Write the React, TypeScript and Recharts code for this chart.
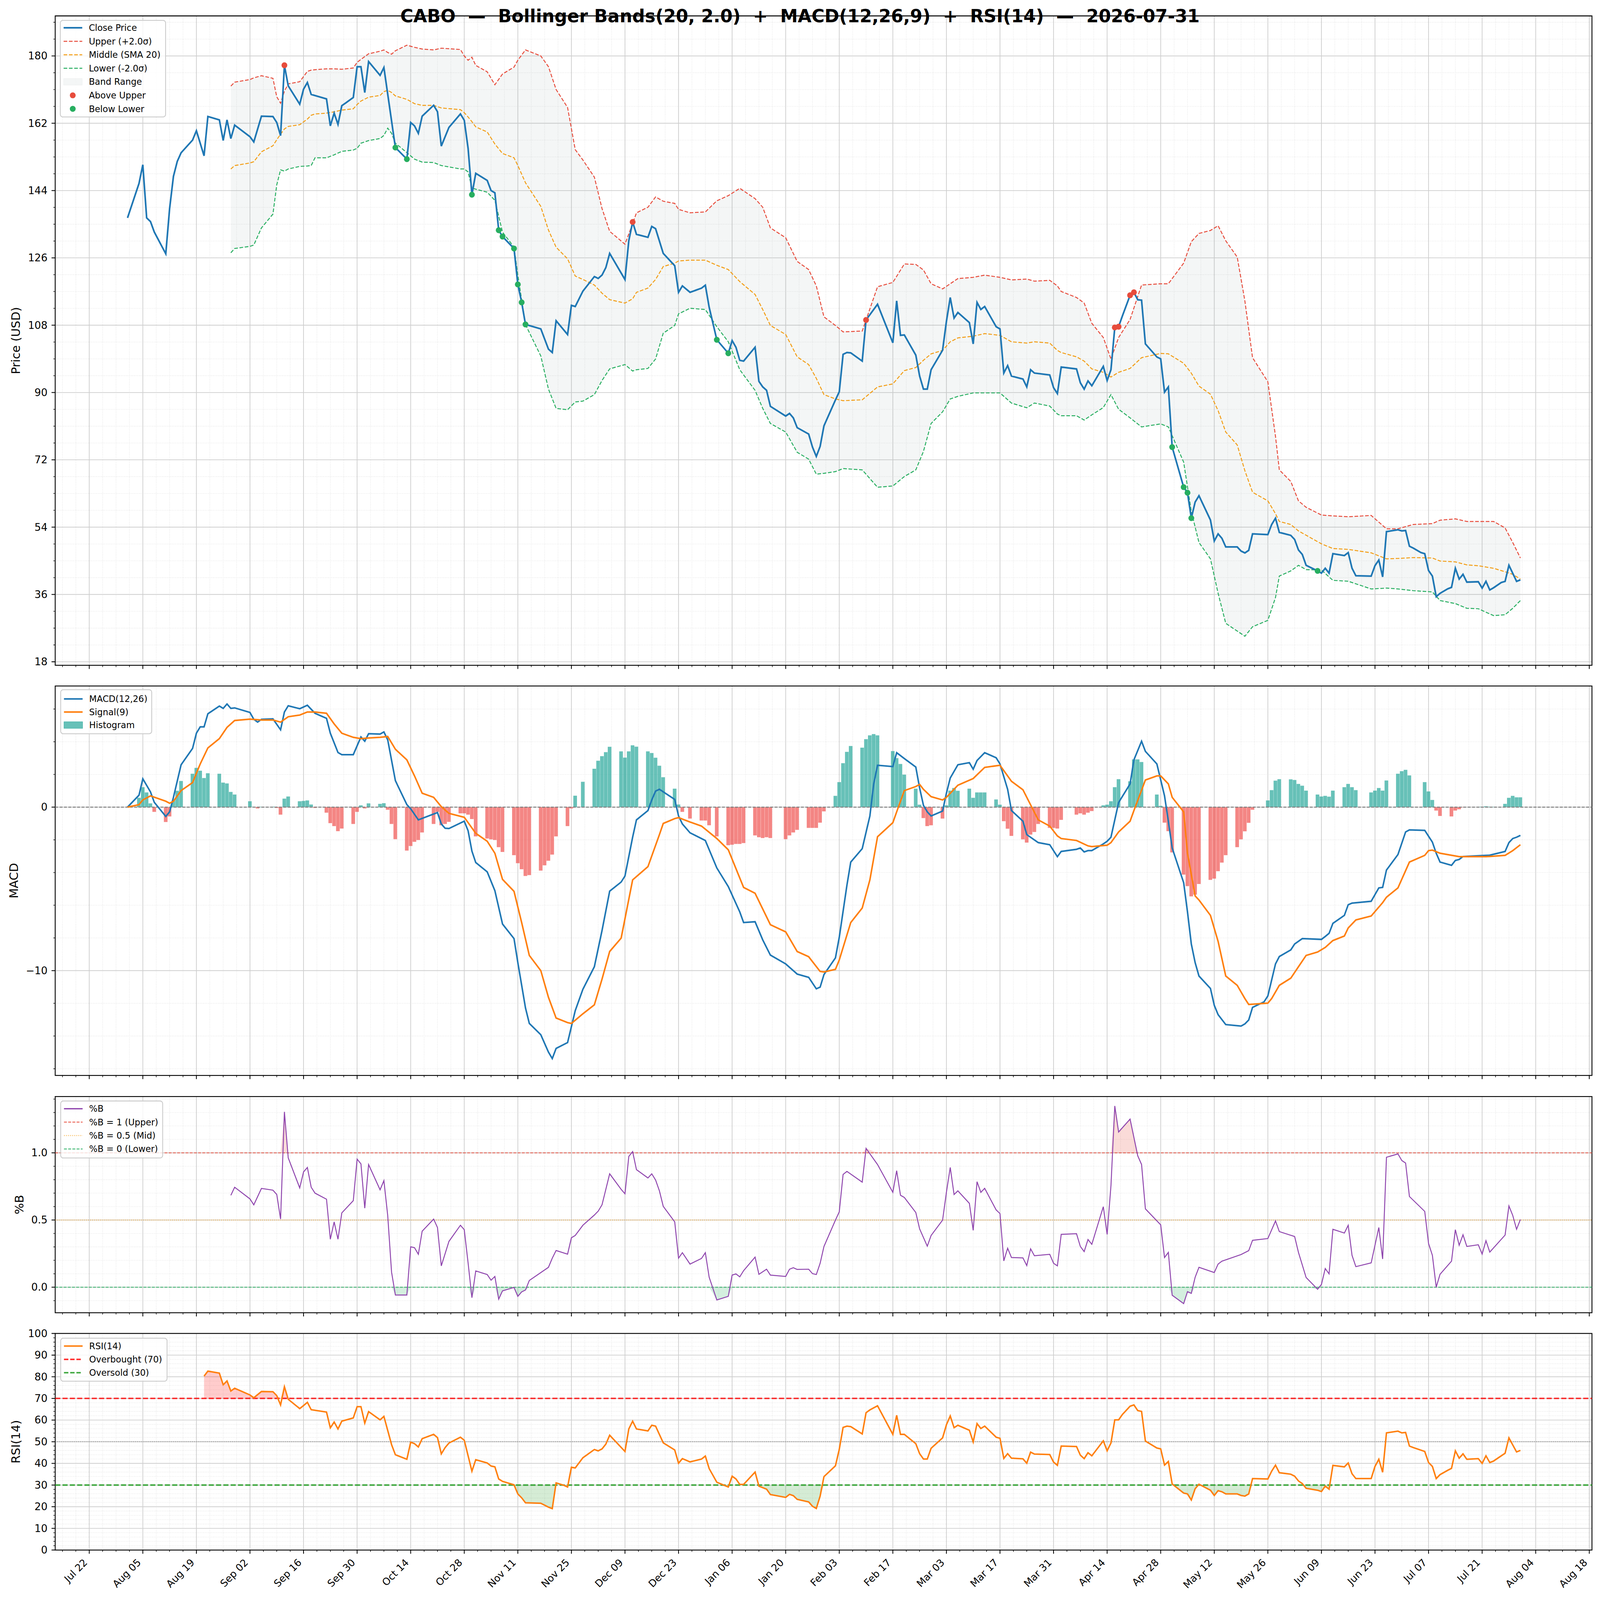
import React from 'react';
import {
  ComposedChart,
  Line,
  Area,
  Bar,
  Cell,
  Scatter,
  XAxis,
  YAxis,
  CartesianGrid,
  ReferenceLine,
  ReferenceArea,
} from 'recharts';

const FIG_W = 4377;
const FIG_H = 4322;
const PLOT_LEFT = 151;
const PLOT_RIGHT = 4355;
const Y_AXIS_W = 120;
const M_TOP = 30;
const FONT = "'DejaVu Sans', sans-serif";

const COLORS = {
  close: '#1f77b4',
  upper: '#e74c3c',
  middle: '#f39c12',
  lower: '#27ae60',
  band: '#95a5a6',
  macd: '#1f77b4',
  signal: '#ff7f0e',
  histPos: '#26a69a',
  histNeg: '#ef5350',
  pctB: '#8e44ad',
  rsi: '#ff7f0e',
  overbought: '#ff0000',
  oversold: '#2ca02c',
};

// x values are calendar days counted from 2025-07-22
const X_DOMAIN: [number, number] = [-8.9, 392.7];

const DATE_LABELS = [
  'Jul 22', 'Aug 05', 'Aug 19', 'Sep 02', 'Sep 16', 'Sep 30', 'Oct 14', 'Oct 28', 'Nov 11', 'Nov 25',
  'Dec 09', 'Dec 23', 'Jan 06', 'Jan 20', 'Feb 03', 'Feb 17', 'Mar 03', 'Mar 17', 'Mar 31', 'Apr 14',
  'Apr 28', 'May 12', 'May 26', 'Jun 09', 'Jun 23', 'Jul 07', 'Jul 21', 'Aug 04', 'Aug 18',
];
const DATE_TICKS = DATE_LABELS.map((_, i) => i * 14);

const CLOSE: [number, number][] = [
  [10, 136.7], [13, 145.9], [14, 150.9], [15, 136.7], [16, 135.7], [17, 132.9], [20, 127.1], [21, 139.2],
  [22, 147.8], [23, 151.8], [24, 154.1], [27, 157.5], [28, 160.0], [30, 153.3], [31, 163.8], [34, 162.9],
  [35, 157.4], [36, 162.9], [37, 157.9], [38, 161.5], [42, 158.4], [43, 157.0], [45, 163.9], [48, 163.8],
  [49, 162.2], [50, 158.7], [51, 177.5], [52, 172.0], [55, 167.1], [56, 171.1], [57, 172.9], [58, 169.7],
  [62, 168.5], [63, 161.3], [64, 164.7], [65, 161.7], [66, 166.7], [67, 167.4], [69, 168.9], [70, 177.1],
  [71, 177.1], [72, 170.2], [73, 178.5], [76, 174.8], [77, 176.9], [80, 155.5], [83, 152.4], [84, 162.2],
  [85, 161.3], [86, 159.3], [87, 163.9], [90, 166.8], [91, 165.1], [92, 155.9], [94, 160.9], [97, 164.5],
  [98, 162.8], [99, 155.3], [100, 142.9], [101, 148.6], [104, 146.7], [105, 144.0], [106, 143.4], [107, 133.4],
  [108, 131.7], [111, 128.5], [112, 118.9], [113, 114.1], [114, 108.2], [118, 107.0], [120, 101.6], [121, 100.7],
  [122, 109.2], [125, 105.5], [126, 113.3], [127, 113.0], [129, 117.1], [132, 121.0], [133, 120.5], [134, 121.4],
  [135, 123.4], [136, 127.2], [140, 120.2], [141, 130.6], [142, 135.6], [143, 132.3], [146, 131.5], [147, 134.4],
  [148, 133.8], [150, 127.2], [153, 123.9], [154, 116.8], [155, 118.5], [157, 116.8], [160, 117.9], [161, 118.7],
  [162, 112.8], [164, 104.1], [167, 100.5], [168, 103.9], [169, 102.1], [170, 98.6], [171, 98.4], [174, 102.1],
  [175, 93.0], [176, 91.5], [177, 90.6], [178, 86.3], [182, 83.7], [183, 84.4], [184, 83.2], [185, 80.6],
  [188, 78.9], [189, 75.4], [190, 72.9], [191, 75.6], [192, 81.1], [195, 88.0], [196, 90.2], [197, 100.2],
  [198, 100.7], [199, 100.6], [202, 98.4], [203, 109.4], [206, 113.6], [210, 103.3], [211, 114.5], [212, 105.3],
  [213, 105.4], [216, 100.0], [217, 94.4], [218, 90.9], [219, 90.9], [220, 96.1], [223, 101.3], [224, 109.0],
  [225, 115.4], [226, 109.9], [227, 111.4], [230, 108.7], [231, 103.0], [232, 114.1], [233, 112.2], [234, 113.0],
  [237, 107.6], [238, 107.0], [239, 95.2], [240, 97.2], [241, 94.4], [244, 93.6], [245, 91.5], [246, 96.1],
  [247, 95.2], [251, 94.7], [252, 91.3], [253, 89.7], [254, 96.8], [258, 96.3], [259, 92.6], [260, 90.9],
  [261, 93.1], [262, 91.8], [265, 97.0], [266, 93.2], [267, 96.1], [268, 107.4], [269, 107.6], [270, 110.5],
  [272, 116.0], [273, 116.8], [274, 114.8], [275, 114.7], [276, 103.0], [279, 99.5], [280, 99.0], [281, 90.1],
  [282, 91.5], [283, 75.4], [286, 64.7], [287, 63.2], [288, 56.4], [289, 60.7], [290, 62.4], [293, 55.9],
  [294, 50.3], [295, 52.2], [296, 51.0], [297, 48.7], [300, 48.7], [301, 47.6], [302, 47.1], [303, 47.8],
  [304, 52.2], [308, 52.0], [309, 54.7], [310, 56.4], [311, 52.6], [314, 51.8], [315, 50.7], [316, 47.9],
  [317, 46.7], [318, 43.8], [321, 42.3], [322, 41.7], [323, 43.0], [324, 41.7], [325, 46.9], [328, 46.4],
  [329, 47.2], [330, 43.0], [331, 41.0], [335, 40.9], [336, 43.7], [337, 45.2], [338, 40.7], [339, 52.8],
  [342, 53.3], [343, 53.0], [344, 53.1], [345, 48.9], [346, 48.4], [348, 47.2], [349, 46.9], [350, 42.4],
  [351, 40.9], [352, 35.4], [353, 36.3], [355, 37.5], [356, 37.9], [357, 43.0], [358, 40.1], [359, 41.4],
  [360, 39.3], [363, 39.4], [364, 37.7], [365, 39.5], [366, 37.2], [367, 37.8], [369, 39.2], [370, 39.5],
  [371, 43.8], [373, 39.5], [374, 39.9],
];

const BAND_DAYS = [
  37, 38, 42, 43, 45, 48, 49, 50, 51, 52, 55, 57, 58, 59, 62, 64, 66, 69, 70, 71, 73, 76, 77, 78, 79, 80,
  83, 85, 87, 90, 92, 97, 98, 99, 100, 101, 104, 106, 108, 111, 112, 114, 118, 120, 122, 125, 127, 129,
  132, 134, 136, 140, 142, 143, 146, 148, 150, 153, 154, 157, 161, 164, 167, 170, 174, 176, 178, 182, 185,
  188, 190, 192, 195, 197, 202, 206, 210, 213, 216, 218, 220, 223, 225, 227, 231, 234, 238, 241, 245, 247,
  251, 253, 254, 258, 260, 262, 265, 267, 269, 272, 275, 280, 282, 286, 288, 290, 293, 295, 297, 300, 302,
  304, 308, 310, 311, 314, 316, 318, 322, 325, 329, 335, 339, 342, 346, 351, 353, 357, 360, 363, 367, 370,
  372, 374,
];
const UPPER = [
  171.95, 172.99, 173.68, 174.14, 174.71, 174.02, 169.08, 167.36, 170.57, 172.53, 173.1, 175.86, 176.21, 176.32,
  176.55, 176.55, 176.44, 176.78, 178.28, 179.08, 180.57, 181.26, 181.61, 180.92, 180.46, 181.38, 182.87, 182.3,
  181.84, 181.61, 182.07, 181.72, 180.0, 178.85, 179.66, 177.47, 175.75, 172.3, 175.17, 177.01, 178.85, 181.61,
  180.0, 177.13, 171.03, 166.21, 154.94, 152.18, 147.59, 139.2, 133.1, 129.66, 135.17, 138.05, 139.54, 142.3,
  141.15, 140.57, 138.97, 138.05, 138.28, 141.26, 142.64, 144.6, 141.84, 139.54, 134.02, 131.38, 125.06, 122.87,
  118.51, 110.23, 107.93, 106.21, 106.44, 118.28, 119.43, 124.37, 124.25, 122.76, 119.08, 117.7, 119.08, 120.46,
  120.8, 121.38, 120.8, 120.11, 120.34, 119.77, 120.0, 118.51, 117.01, 115.4, 113.91, 108.51, 104.71, 98.97,
  104.71, 109.54, 118.74, 119.08, 119.08, 124.6, 130.34, 132.53, 133.33, 134.6, 130.57, 126.21, 114.48, 99.31,
  92.87, 78.28, 69.31, 66.21, 61.03, 59.31, 57.24, 57.01, 56.78, 57.13, 53.56, 53.56, 54.71, 54.94, 55.86,
  56.21, 55.52, 55.52, 55.52, 53.79, 49.89, 45.75,
];
const MIDDLE = [
  149.77, 150.69, 151.38, 151.72, 154.37, 155.98, 157.59, 159.08, 160.46, 161.15, 161.61, 163.1, 164.14, 164.48,
  164.71, 165.06, 165.52, 165.86, 167.01, 167.93, 168.97, 169.43, 170.46, 170.8, 170.23, 169.31, 168.39, 167.24,
  166.78, 166.78, 166.09, 165.63, 164.83, 163.68, 162.41, 161.03, 159.66, 156.44, 153.91, 152.76, 150.69, 146.09,
  139.77, 133.45, 128.85, 125.75, 121.15, 120.23, 118.74, 116.55, 114.83, 113.91, 115.06, 116.78, 117.93, 120.23,
  123.68, 124.6, 125.17, 125.4, 125.4, 124.02, 122.87, 119.66, 116.21, 112.18, 107.93, 105.52, 99.54, 97.47,
  93.79, 89.43, 88.28, 87.82, 88.05, 91.49, 92.3, 95.86, 96.67, 98.62, 100.34, 101.26, 103.56, 104.6,
  105.06, 105.75, 105.29, 103.56, 103.22, 103.56, 103.22, 101.26, 100.69, 99.54, 98.39, 96.32, 95.4, 94.14,
  95.4, 96.44, 99.31, 100.46, 100.34, 97.82, 95.17, 91.72, 89.54, 85.17, 79.43, 75.98, 69.08, 63.33,
  61.03, 57.59, 55.52, 54.71, 52.99, 51.84, 49.54, 48.28, 48.05, 47.13, 45.52, 45.63, 45.86, 45.75, 44.94,
  44.71, 43.91, 43.68, 42.99, 42.07, 41.38, 40.11,
];
const LOWER = [
  127.36, 128.51, 129.08, 129.43, 134.02, 137.7, 145.52, 149.54, 149.2, 149.77, 150.46, 150.57, 150.69, 152.76,
  152.76, 153.56, 154.48, 154.83, 155.29, 156.67, 157.36, 157.93, 158.74, 160.69, 159.31, 156.67, 154.14, 152.41,
  151.61, 151.49, 150.69, 149.77, 149.77, 148.97, 144.71, 144.37, 143.56, 141.38, 132.87, 128.9, 121.38, 108.16,
  99.77, 90.92, 85.75, 85.4, 87.47, 87.7, 89.43, 93.22, 96.32, 97.47, 95.75, 96.09, 96.44, 98.97,
  105.86, 107.93, 111.03, 112.53, 112.18, 107.59, 103.56, 96.09, 90.57, 85.75, 81.72, 79.43, 74.02, 72.18,
  68.16, 68.39, 68.85, 69.66, 69.31, 64.66, 65.0, 67.53, 69.31, 74.25, 81.72, 84.83, 88.28, 88.97,
  89.89, 89.89, 89.89, 87.18, 85.92, 87.18, 86.38, 84.25, 83.79, 83.79, 82.64, 84.02, 85.98, 89.43,
  85.52, 83.22, 80.8, 81.61, 80.8, 71.38, 58.16, 49.89, 45.52, 36.32, 28.28, 26.21, 24.83, 27.36,
  29.08, 35.17, 40.92, 42.3, 43.79, 42.64, 42.53, 39.77, 39.54, 37.47, 37.7, 37.47, 37.01, 36.67, 34.37,
  33.56, 32.3, 32.18, 30.34, 30.57, 32.3, 34.37,
];

const ABOVE_UPPER_DAYS = [51, 142, 203, 268, 269, 272, 273];
const BELOW_LOWER_DAYS = [80, 83, 100, 107, 108, 111, 112, 113, 114, 164, 167, 283, 286, 287, 288, 321];

const MACD: [number, number][] = [
  [10, 0], [13, 0.73], [14, 1.73], [16, 0.93], [17, 0.29], [20, -0.57], [21, -0.29], [22, 0.6], [24, 2.59],
  [27, 3.59], [28, 4.52], [29, 4.91], [30, 4.91], [31, 5.71], [34, 6.18], [35, 6.04], [36, 6.31], [37, 6.04],
  [38, 6.07], [42, 5.79], [43, 5.37], [44, 5.2], [45, 5.37], [48, 5.4], [50, 4.73], [51, 5.82], [52, 6.2],
  [55, 6.02], [57, 6.23], [59, 5.74], [62, 5.43], [63, 4.52], [65, 3.34], [66, 3.21], [69, 3.21], [71, 4.29],
  [72, 4.03], [73, 4.49], [76, 4.47], [77, 4.6], [78, 4.11], [80, 1.62], [83, 0.15], [84, -0.1], [86, -0.78],
  [91, -0.33], [92, -1.03], [93, -1.29], [94, -1.31], [98, -0.86], [99, -1.44], [100, -2.69], [101, -3.39],
  [104, -3.96], [106, -5.11], [108, -7.15], [111, -8.04], [112, -9.51], [114, -12.28], [115, -13.23],
  [118, -13.92], [120, -14.98], [121, -15.38], [122, -14.76], [125, -14.4], [127, -12.45], [129, -11.14],
  [132, -9.76], [134, -7.55], [136, -5.14], [139, -4.58], [140, -4.21], [142, -1.84], [143, -0.78], [146, -0.21],
  [147, 0.44], [148, 0.98], [149, 1.09], [153, 0.47], [154, -0.54], [155, -1.03], [157, -1.57], [161, -2.04],
  [164, -3.72], [167, -4.86], [170, -6.41], [171, -7.06], [174, -7.01], [176, -8.12], [178, -9.05], [182, -9.59],
  [185, -10.21], [188, -10.41], [190, -11.11], [191, -11.01], [192, -10.24], [195, -9.22], [196, -7.96],
  [198, -4.78], [199, -3.36], [202, -2.54], [204, -0.54], [205, 1.42], [206, 2.56], [210, 2.48], [211, 3.33],
  [213, 2.97], [216, 2.45], [217, 1.17], [218, 0.11], [219, -0.29], [220, -0.54], [223, -0.24], [224, 0.85],
  [225, 1.78], [227, 2.59], [230, 2.72], [231, 2.32], [232, 2.85], [234, 3.33], [237, 3.02], [238, 2.64],
  [240, 1.09], [241, -0.21], [244, -0.86], [245, -1.68], [248, -2.17], [251, -2.3], [253, -3.03], [254, -2.71],
  [258, -2.58], [259, -2.5], [260, -2.74], [261, -2.66], [262, -2.66], [265, -2.25], [266, -2.09], [267, -1.84],
  [269, 0.28], [272, 1.42], [273, 2.89], [275, 4.03], [276, 3.41], [279, 2.64], [281, 0.69], [282, -0.86],
  [283, -2.5], [286, -4.62], [287, -6.41], [288, -8.37], [289, -9.51], [290, -10.33], [293, -11.09], [294, -12.12],
  [295, -12.69], [297, -13.3], [301, -13.39], [302, -13.26], [303, -13.02], [304, -12.25], [307, -11.91],
  [308, -11.55], [310, -9.59], [311, -9.14], [314, -8.73], [315, -8.37], [317, -8.04], [322, -8.09], [323, -7.91],
  [324, -7.72], [325, -7.11], [328, -6.62], [329, -5.97], [330, -5.87], [335, -5.76], [337, -4.94], [338, -4.91],
  [339, -3.85], [342, -2.9], [344, -1.52], [345, -1.39], [349, -1.42], [351, -2.14], [352, -2.82], [353, -3.36],
  [356, -3.56], [357, -3.26], [358, -3.2], [359, -3.02], [365, -2.95], [366, -2.94], [370, -2.71], [371, -2.17],
  [372, -1.92], [373, -1.84], [374, -1.73],
];

const SIGNAL: [number, number][] = [
  [10, 0], [13, 0.15], [14, 0.44], [16, 0.69], [20, 0.36], [21, 0.24], [22, 0.36], [24, 1.01], [27, 1.5],
  [28, 2.07], [29, 2.64], [31, 3.62], [34, 4.19], [36, 4.88], [38, 5.3], [42, 5.38], [45, 5.33], [48, 5.33],
  [50, 5.2], [52, 5.53], [55, 5.63], [57, 5.82], [59, 5.82], [62, 5.74], [64, 5.09], [66, 4.52], [69, 4.27],
  [71, 4.19], [73, 4.23], [76, 4.27], [78, 4.32], [80, 3.54], [83, 2.89], [85, 1.91], [87, 0.85], [90, 0.6],
  [92, 0.03], [94, -0.38], [98, -0.62], [101, -1.6], [104, -2.09], [106, -2.82], [108, -4.42], [111, -5.15],
  [113, -7.06], [115, -9.07], [118, -10.0], [120, -11.63], [122, -12.9], [125, -13.18], [126, -13.23],
  [129, -12.64], [132, -12.09], [134, -10.52], [136, -8.83], [139, -8.01], [142, -4.45], [146, -3.64],
  [149, -1.68], [150, -1.0], [153, -0.7], [154, -0.64], [157, -0.91], [160, -1.16], [164, -1.92], [167, -2.61],
  [171, -4.91], [174, -5.27], [178, -7.19], [182, -7.63], [185, -8.83], [188, -9.15], [191, -10.05],
  [192, -10.08], [195, -9.92], [196, -9.35], [199, -7.06], [202, -6.17], [204, -4.45], [206, -1.81], [210, -0.95],
  [211, -0.29], [213, 1.01], [216, 1.26], [217, 1.39], [218, 1.09], [220, 0.64], [223, 0.44], [224, 0.6],
  [227, 1.34], [231, 1.75], [234, 2.43], [238, 2.56], [241, 1.58], [244, 1.06], [248, -0.78], [251, -1.16],
  [253, -1.76], [254, -1.92], [258, -2.04], [261, -2.37], [262, -2.41], [266, -2.33], [267, -2.17], [269, -1.52],
  [272, -0.86], [273, -0.21], [276, 1.66], [279, 1.91], [280, 1.91], [282, 1.42], [283, 0.6], [286, -0.29],
  [287, -2.82], [289, -5.43], [290, -5.68], [293, -6.62], [295, -8.21], [297, -10.33], [300, -10.9], [302, -11.71],
  [303, -12.07], [308, -11.99], [309, -11.71], [311, -10.9], [314, -10.46], [316, -9.76], [318, -9.07],
  [321, -8.86], [323, -8.58], [325, -8.16], [328, -7.88], [329, -7.39], [331, -6.9], [335, -6.66], [338, -5.84],
  [339, -5.51], [342, -4.94], [345, -3.36], [349, -2.95], [350, -2.66], [351, -2.63], [353, -2.82], [358, -3.03],
  [365, -3.03], [370, -2.95], [372, -2.66], [374, -2.3],
];

const HIST: [number, number][] = [
  [13, 0.57], [14, 1.22], [15, 0.9], [16, 0.23], [17, -0.29], [20, -0.91], [21, -0.57], [22, 0.4], [23, 1.0],
  [24, 1.6], [27, 2.04], [28, 2.4], [29, 2.23], [30, 1.78], [31, 2.07], [34, 2.04], [35, 1.5], [36, 1.45],
  [37, 0.93], [38, 0.77], [42, 0.36], [43, 0.02], [44, -0.08], [45, 0.02], [48, 0.03], [49, -0.05], [50, -0.46],
  [51, 0.52], [52, 0.65], [55, 0.36], [56, 0.38], [57, 0.41], [58, 0.16], [59, -0.05], [62, -0.34], [63, -0.98],
  [64, -1.16], [65, -1.47], [66, -1.31], [69, -1.03], [70, -0.29], [71, 0.11], [72, -0.08], [73, 0.23],
  [76, 0.2], [77, 0.24], [78, -0.16], [79, -1.03], [80, -1.96], [83, -2.66], [84, -2.38], [85, -2.12],
  [86, -2.01], [87, -1.55], [90, -1.03], [91, -0.29], [92, -1.11], [93, -1.03], [94, -0.9], [97, -0.38],
  [98, -0.38], [99, -0.46], [100, -0.73], [101, -1.79], [104, -1.92], [105, -1.97], [106, -2.01], [107, -2.45],
  [108, -2.74], [111, -2.94], [112, -3.43], [113, -3.8], [114, -4.21], [115, -4.16], [118, -3.88], [119, -3.56],
  [120, -3.28], [121, -2.9], [122, -1.79], [125, -1.16], [126, -0.08], [127, 0.7], [129, 1.55], [132, 2.35],
  [133, 2.84], [134, 3.12], [135, 3.36], [136, 3.69], [139, 3.41], [140, 3.03], [141, 3.41], [142, 3.78],
  [143, 3.7], [146, 3.41], [147, 3.31], [148, 3.02], [149, 2.53], [150, 1.83], [153, 1.13], [154, 0.16],
  [155, -0.29], [157, -0.7], [160, -0.82], [161, -0.82], [162, -1.11], [164, -1.79], [167, -2.33], [168, -2.3],
  [169, -2.25], [170, -2.25], [171, -2.2], [174, -1.73], [175, -1.84], [176, -1.89], [177, -1.84], [178, -1.89],
  [182, -1.96], [183, -1.73], [184, -1.55], [185, -1.39], [188, -1.27], [189, -1.27], [190, -1.27], [191, -0.95],
  [192, -0.26], [195, 0.69], [196, 1.53], [197, 2.69], [198, 3.38], [199, 3.74], [202, 3.64], [203, 4.16],
  [204, 4.39], [205, 4.47], [206, 4.39], [210, 3.43], [211, 3.0], [212, 2.64], [213, 1.99], [216, 1.13],
  [217, 0.15], [218, -0.67], [219, -1.16], [220, -1.11], [223, -0.7], [224, 0.11], [225, 1.01], [226, 1.17],
  [227, 1.0], [230, 1.13], [231, 0.57], [232, 0.9], [233, 0.9], [234, 0.9], [237, 0.47], [238, 0.15],
  [239, -0.86], [240, -1.32], [241, -1.76], [244, -1.97], [245, -2.17], [246, -1.68], [247, -1.52], [248, -1.03],
  [251, -1.27], [252, -1.27], [253, -1.31], [254, -0.78], [258, -0.46], [259, -0.38], [260, -0.46], [261, -0.34],
  [262, -0.24], [265, 0.11], [266, 0.15], [267, 0.36], [268, 1.22], [269, 1.71], [272, 1.58], [273, 2.92],
  [274, 2.92], [275, 2.76], [279, 0.77], [280, 0.08], [281, -0.95], [282, -1.47], [283, -2.77], [286, -4.13],
  [287, -4.83], [288, -5.46], [289, -5.35], [290, -4.7], [293, -4.45], [294, -4.37], [295, -3.92], [296, -3.39],
  [297, -2.94], [300, -2.45], [301, -1.97], [302, -1.48], [303, -0.96], [304, -0.16], [308, 0.41], [309, 1.04],
  [310, 1.62], [311, 1.71], [314, 1.7], [315, 1.66], [316, 1.42], [317, 1.31], [318, 1.01], [321, 0.77],
  [322, 0.65], [323, 0.69], [324, 0.64], [325, 1.01], [328, 1.22], [329, 1.42], [330, 1.22], [331, 1.04],
  [335, 0.9], [336, 1.01], [337, 1.17], [338, 1.01], [339, 1.63], [342, 2.04], [343, 2.2], [344, 2.28],
  [345, 1.94], [349, 1.53], [350, 0.96], [351, 0.44], [352, -0.21], [353, -0.54], [356, -0.57], [357, -0.21],
  [358, -0.13], [359, -0.02], [363, 0.02], [364, 0.03], [365, 0.05], [366, 0.03], [367, 0.02], [370, 0.2],
  [371, 0.57], [372, 0.69], [373, 0.6], [374, 0.6],
];

const PCT_B: [number, number][] = [
  [37, 0.684], [38, 0.744], [42, 0.657], [43, 0.613], [45, 0.735], [48, 0.722], [49, 0.69], [50, 0.507],
  [51, 1.305], [52, 0.962], [55, 0.739], [56, 0.858], [57, 0.891], [58, 0.744], [59, 0.7], [62, 0.655],
  [63, 0.357], [64, 0.486], [65, 0.357], [66, 0.553], [69, 0.644], [70, 0.953], [71, 0.918], [72, 0.588],
  [73, 0.913], [76, 0.725], [77, 0.793], [78, 0.532], [79, 0.112], [80, -0.058], [83, -0.058], [84, 0.301],
  [85, 0.294], [86, 0.245], [87, 0.417], [90, 0.507], [91, 0.444], [92, 0.159], [94, 0.341], [97, 0.461],
  [98, 0.428], [99, 0.181], [100, -0.078], [101, 0.121], [104, 0.094], [105, 0.052], [106, 0.08], [107, -0.089],
  [108, -0.027], [111, -0.002], [112, -0.068], [113, -0.035], [114, -0.021], [115, 0.05], [120, 0.148],
  [121, 0.216], [122, 0.273], [125, 0.246], [126, 0.368], [127, 0.385], [129, 0.461], [132, 0.537], [133, 0.566],
  [134, 0.613], [136, 0.844], [139, 0.728], [140, 0.695], [141, 0.973], [142, 1.009], [143, 0.875], [146, 0.813],
  [147, 0.844], [148, 0.798], [149, 0.717], [150, 0.602], [153, 0.486], [154, 0.216], [155, 0.257], [157, 0.172],
  [160, 0.214], [161, 0.257], [162, 0.074], [164, -0.095], [167, -0.068], [168, 0.09], [169, 0.099], [170, 0.077],
  [171, 0.123], [174, 0.224], [175, 0.096], [177, 0.134], [178, 0.09], [182, 0.08], [183, 0.134], [184, 0.145],
  [185, 0.132], [188, 0.134], [189, 0.101], [190, 0.094], [191, 0.178], [192, 0.303], [195, 0.499], [196, 0.561],
  [197, 0.839], [198, 0.862], [202, 0.782], [203, 1.033], [206, 0.913], [210, 0.706], [211, 0.867], [212, 0.684],
  [213, 0.668], [216, 0.556], [217, 0.434], [219, 0.305], [220, 0.385], [223, 0.499], [224, 0.706], [225, 0.891],
  [226, 0.69], [227, 0.717], [230, 0.624], [231, 0.423], [232, 0.785], [233, 0.706], [234, 0.736], [237, 0.575],
  [238, 0.548], [239, 0.196], [240, 0.29], [241, 0.221], [244, 0.218], [245, 0.161], [246, 0.286], [247, 0.234],
  [251, 0.245], [252, 0.178], [253, 0.159], [254, 0.393], [258, 0.398], [259, 0.303], [260, 0.265], [261, 0.355],
  [262, 0.319], [265, 0.599], [266, 0.393], [267, 0.755], [268, 1.349], [269, 1.155], [272, 1.251], [274, 0.978],
  [275, 0.913], [276, 0.583], [280, 0.464], [281, 0.221], [282, 0.259], [283, -0.06], [286, -0.122], [287, -0.033],
  [288, -0.046], [289, 0.074], [290, 0.148], [294, 0.109], [295, 0.172], [296, 0.194], [301, 0.243], [303, 0.272],
  [304, 0.349], [308, 0.362], [310, 0.493], [311, 0.414], [315, 0.377], [316, 0.259], [318, 0.072], [321, -0.015],
  [322, 0.02], [323, 0.139], [324, 0.099], [325, 0.431], [328, 0.403], [329, 0.461], [330, 0.237], [331, 0.153],
  [335, 0.181], [337, 0.444], [338, 0.21], [339, 0.967], [342, 0.992], [343, 0.943], [344, 0.924], [345, 0.675],
  [349, 0.564], [350, 0.325], [351, 0.237], [352, 0.0], [353, 0.096], [356, 0.194], [357, 0.428], [358, 0.312],
  [359, 0.39], [360, 0.303], [363, 0.316], [364, 0.246], [365, 0.346], [366, 0.261], [370, 0.388], [371, 0.605],
  [372, 0.534], [373, 0.431], [374, 0.504],
];

const RSI: [number, number][] = [
  [30, 80.3], [31, 82.6], [34, 81.7], [35, 76.3], [36, 78.1], [37, 73.4], [38, 74.7], [42, 71.6], [43, 70.3],
  [45, 73.2], [48, 73.1], [49, 71.3], [50, 67.0], [51, 75.4], [52, 69.6], [55, 65.3], [56, 66.7], [57, 68.2],
  [58, 64.8], [62, 63.7], [63, 56.4], [64, 59.1], [65, 55.9], [66, 59.5], [69, 61.0], [70, 66.2], [71, 66.2],
  [72, 58.6], [73, 63.9], [76, 60.1], [77, 61.7], [79, 48.7], [80, 44.0], [83, 41.9], [84, 49.8], [85, 49.1],
  [86, 47.6], [87, 51.4], [90, 53.4], [91, 51.9], [92, 44.4], [93, 47.3], [94, 49.4], [97, 52.1], [98, 50.7],
  [100, 36.4], [101, 41.7], [104, 40.2], [105, 38.8], [106, 38.4], [107, 32.8], [108, 31.7], [111, 30.1],
  [112, 25.9], [113, 24.1], [114, 21.8], [118, 21.6], [120, 19.8], [121, 19.1], [122, 31.0], [124, 29.9],
  [125, 29.1], [126, 38.2], [127, 37.9], [129, 42.6], [132, 46.4], [133, 45.8], [134, 46.7], [135, 48.9],
  [136, 53.0], [140, 45.5], [141, 55.9], [142, 59.5], [143, 55.9], [146, 55.0], [147, 57.6], [148, 57.2],
  [150, 49.5], [153, 46.2], [154, 40.1], [155, 42.2], [157, 40.7], [160, 42.0], [161, 43.4], [162, 37.6],
  [164, 31.3], [167, 29.1], [168, 34.1], [169, 32.8], [170, 30.3], [171, 30.3], [174, 36.0], [175, 29.5],
  [177, 28.1], [178, 25.6], [182, 24.3], [183, 25.7], [184, 25.1], [185, 23.4], [188, 22.2], [189, 20.2],
  [190, 19.2], [191, 24.9], [192, 33.9], [195, 38.9], [196, 46.5], [197, 56.6], [198, 57.2], [199, 57.0],
  [202, 53.6], [203, 63.4], [204, 64.7], [206, 66.6], [210, 53.4], [211, 62.2], [212, 53.4], [213, 53.4],
  [216, 49.1], [217, 44.5], [218, 42.0], [219, 42.0], [220, 47.0], [223, 51.8], [224, 57.8], [225, 61.9],
  [226, 56.5], [227, 57.6], [230, 55.3], [231, 49.9], [232, 58.4], [233, 56.1], [234, 57.2], [237, 52.1],
  [238, 51.6], [239, 42.3], [240, 44.5], [241, 42.4], [244, 42.1], [245, 40.1], [246, 45.2], [247, 44.3],
  [251, 44.1], [252, 40.6], [253, 39.1], [254, 48.0], [258, 47.8], [259, 43.8], [260, 42.2], [261, 44.9],
  [262, 43.5], [265, 50.4], [266, 45.8], [267, 49.4], [268, 60.1], [269, 60.1], [270, 62.6], [272, 66.4],
  [273, 67.0], [274, 64.4], [275, 64.0], [276, 50.3], [279, 47.1], [280, 46.7], [281, 39.2], [282, 40.9],
  [283, 30.5], [286, 26.3], [287, 25.9], [288, 23.1], [289, 28.3], [290, 30.4], [293, 27.6], [294, 25.2],
  [295, 27.4], [296, 26.9], [297, 25.9], [300, 25.9], [301, 25.2], [302, 24.9], [303, 25.9], [304, 33.0],
  [308, 32.8], [309, 36.4], [310, 39.2], [311, 35.7], [314, 35.0], [315, 34.1], [316, 31.9], [317, 30.7],
  [318, 28.5], [321, 27.6], [322, 27.0], [323, 29.5], [324, 28.1], [325, 39.1], [328, 38.4], [329, 40.2],
  [330, 35.2], [331, 33.0], [335, 33.0], [336, 38.6], [337, 41.9], [338, 35.9], [339, 54.1], [342, 54.9],
  [343, 54.1], [344, 54.3], [345, 48.0], [346, 47.3], [349, 45.5], [350, 40.4], [351, 38.6], [352, 33.0],
  [353, 34.8], [355, 36.8], [356, 37.7], [357, 45.8], [358, 42.4], [359, 44.4], [360, 41.9], [363, 42.2],
  [364, 40.0], [365, 43.5], [366, 40.4], [367, 41.1], [369, 43.5], [370, 44.7], [371, 51.8], [372, 48.5],
  [373, 45.3], [374, 46.0],
];

function steps(from: number, to: number, step: number): number[] {
  const out: number[] = [];
  for (let i = 0; ; i++) {
    const v = Number((from + i * step).toFixed(4));
    if (v > to + 1e-9) break;
    out.push(v);
  }
  return out;
}

const X_MINOR = steps(-7, 392, 3.5);

type PanelDef = {
  top: number;
  bottom: number;
  domain: [number, number];
  ticks: number[];
  minor: number[];
  fmt: (v: number) => string;
};

const minus = (s: string) => s.replace('-', '\u2212');

const PANELS: Record<string, PanelDef> = {
  price: { top: 43, bottom: 1797, domain: [17.07, 190.7], ticks: steps(18, 180, 18), minor: steps(18, 189, 4.5), fmt: (v) => String(v) },
  macd: { top: 1853, bottom: 2905, domain: [-16.41, 7.41], ticks: [-10, 0], minor: steps(-16, 6, 2), fmt: (v) => minus(String(v)) },
  pctb: { top: 2962, bottom: 3546, domain: [-0.19, 1.419], ticks: [0, 0.5, 1], minor: steps(-0.1, 1.4, 0.1), fmt: (v) => v.toFixed(1) },
  rsi: { top: 3602, bottom: 4187, domain: [0, 100], ticks: steps(0, 100, 10), minor: steps(0, 100, 2), fmt: (v) => String(v) },
};

const pts = (rows: [number, number][]) => rows.map(([d, v]) => ({ d, v }));
const closeByDay = new Map(CLOSE.map(([d, v]) => [d, v]));
const markerPts = (days: number[]) => days.map((d) => ({ d, v: closeByDay.get(d) }));

const closePts = pts(CLOSE);
const bandRows = BAND_DAYS.map((d, i) => ({ d, hi: UPPER[i], lo: LOWER[i] }));
const upperPts = BAND_DAYS.map((d, i) => ({ d, v: UPPER[i] }));
const middlePts = BAND_DAYS.map((d, i) => ({ d, v: MIDDLE[i] }));
const lowerPts = BAND_DAYS.map((d, i) => ({ d, v: LOWER[i] }));
const histRows = pts(HIST);

const chartMargin = { top: M_TOP, right: FIG_W - PLOT_RIGHT, bottom: 0, left: PLOT_LEFT - Y_AXIS_W };

const renderXTick = (withLabels: boolean) => (props: any) => {
  const { x, y, payload } = props;
  const idx = DATE_TICKS.indexOf(payload.value);
  const major = idx >= 0;
  const ax = x - 18;
  const ay = y + 21;
  return (
    <g>
      <line x1={x} y1={y} x2={x} y2={y + (major ? 10 : 5)} stroke="#000" strokeWidth={major ? 2.2 : 1.5} />
      {withLabels && major ? (
        <text
          x={ax}
          y={ay}
          transform={`rotate(-45 ${ax} ${ay})`}
          textAnchor="end"
          dominantBaseline="hanging"
          fontSize={27}
          fill="#000"
        >
          {DATE_LABELS[idx]}
        </text>
      ) : null}
    </g>
  );
};

const renderYTick = (p: PanelDef) => (props: any) => {
  const { x, y, payload } = props;
  const major = p.ticks.includes(payload.value);
  return (
    <g>
      <line x1={x} y1={y} x2={x - (major ? 10 : 5)} y2={y} stroke="#000" strokeWidth={major ? 2.2 : 1.5} />
      {major ? (
        <text x={x - 21} y={y} textAnchor="end" dominantBaseline="central" fontSize={28} fill="#000">
          {p.fmt(payload.value)}
        </text>
      ) : null}
    </g>
  );
};

function axisParts(p: PanelDef, withLabels: boolean, xHeight: number) {
  return [
    <CartesianGrid
      key="grid-minor"
      verticalValues={X_MINOR}
      horizontalValues={p.minor}
      stroke="#dcdcdc"
      strokeWidth={1.4}
      strokeDasharray="1.5 3"
    />,
    <CartesianGrid key="grid-major" verticalValues={DATE_TICKS} horizontalValues={p.ticks} stroke="#cfcfcf" strokeWidth={2} />,
    <XAxis
      key="x"
      dataKey="d"
      type="number"
      domain={X_DOMAIN}
      allowDataOverflow
      ticks={X_MINOR}
      interval={0}
      height={xHeight}
      axisLine={false}
      tickLine={false}
      tickSize={0}
      tickMargin={0}
      tick={renderXTick(withLabels)}
    />,
    <YAxis
      key="y"
      type="number"
      domain={p.domain}
      allowDataOverflow
      ticks={p.minor}
      interval={0}
      width={Y_AXIS_W}
      axisLine={false}
      tickLine={false}
      tickSize={0}
      tickMargin={0}
      tick={renderYTick(p)}
    />,
  ];
}

function frame(p: PanelDef) {
  return (
    <ReferenceArea
      x1={X_DOMAIN[0]}
      x2={X_DOMAIN[1]}
      y1={p.domain[0]}
      y2={p.domain[1]}
      fill="none"
      stroke="#000"
      strokeWidth={2.4}
      ifOverflow="visible"
    />
  );
}

function panelBox(p: PanelDef, xHeight: number) {
  return {
    style: { position: 'absolute' as const, left: 0, top: p.top - M_TOP },
    height: M_TOP + (p.bottom - p.top) + xHeight,
  };
}

function PricePanel() {
  const p = PANELS.price;
  const box = panelBox(p, 12);
  return (
    <div style={box.style}>
      <ComposedChart width={FIG_W} height={box.height} margin={chartMargin}>
        {axisParts(p, false, 12)}
        <Area
          data={bandRows}
          dataKey={(r: any) => [r.lo, r.hi]}
          stroke="none"
          fill={COLORS.band}
          fillOpacity={0.1}
          isAnimationActive={false}
        />
        <Line data={upperPts} dataKey="v" stroke={COLORS.upper} strokeWidth={2.6} strokeDasharray="10 4.5" dot={false} activeDot={false} isAnimationActive={false} />
        <Line data={middlePts} dataKey="v" stroke={COLORS.middle} strokeWidth={2.6} strokeDasharray="10 4.5" dot={false} activeDot={false} isAnimationActive={false} />
        <Line data={lowerPts} dataKey="v" stroke={COLORS.lower} strokeWidth={2.6} strokeDasharray="10 4.5" dot={false} activeDot={false} isAnimationActive={false} />
        <Line data={closePts} dataKey="v" stroke={COLORS.close} strokeWidth={4.5} dot={false} activeDot={false} isAnimationActive={false} />
        <Scatter
          data={markerPts(ABOVE_UPPER_DAYS)}
          dataKey="v"
          isAnimationActive={false}
          shape={(s: any) => <circle cx={s.cx} cy={s.cy} r={8} fill={COLORS.upper} />}
        />
        <Scatter
          data={markerPts(BELOW_LOWER_DAYS)}
          dataKey="v"
          isAnimationActive={false}
          shape={(s: any) => <circle cx={s.cx} cy={s.cy} r={8} fill={COLORS.lower} />}
        />
        {frame(p)}
      </ComposedChart>
    </div>
  );
}

function MacdPanel() {
  const p = PANELS.macd;
  const box = panelBox(p, 12);
  return (
    <div style={box.style}>
      <ComposedChart width={FIG_W} height={box.height} margin={chartMargin} data={histRows}>
        {axisParts(p, false, 12)}
        <Bar dataKey="v" barSize={10} isAnimationActive={false}>
          {histRows.map((r, i) => (
            <Cell key={`h-${i}`} fill={r.v >= 0 ? COLORS.histPos : COLORS.histNeg} fillOpacity={0.7} />
          ))}
        </Bar>
        <ReferenceLine y={0} stroke="#808080" strokeWidth={2.6} strokeDasharray="8 4" />
        <Line data={pts(MACD)} dataKey="v" stroke={COLORS.macd} strokeWidth={4.2} dot={false} activeDot={false} isAnimationActive={false} />
        <Line data={pts(SIGNAL)} dataKey="v" stroke={COLORS.signal} strokeWidth={4.2} dot={false} activeDot={false} isAnimationActive={false} />
        {frame(p)}
      </ComposedChart>
    </div>
  );
}

function PctBPanel() {
  const p = PANELS.pctb;
  const box = panelBox(p, 12);
  const rows = pts(PCT_B);
  return (
    <div style={box.style}>
      <ComposedChart width={FIG_W} height={box.height} margin={chartMargin}>
        {axisParts(p, false, 12)}
        <Area data={rows} dataKey={(r: any) => [1, Math.max(r.v, 1)]} stroke="none" fill={COLORS.upper} fillOpacity={0.2} isAnimationActive={false} />
        <Area data={rows} dataKey={(r: any) => [Math.min(r.v, 0), 0]} stroke="none" fill={COLORS.lower} fillOpacity={0.2} isAnimationActive={false} />
        <ReferenceLine y={1} stroke={COLORS.upper} strokeOpacity={0.75} strokeWidth={2.8} strokeDasharray="8 3.5" />
        <ReferenceLine y={0.5} stroke={COLORS.middle} strokeOpacity={0.6} strokeWidth={2.6} strokeDasharray="2.6 3" />
        <ReferenceLine y={0} stroke={COLORS.lower} strokeOpacity={0.75} strokeWidth={2.8} strokeDasharray="8 3.5" />
        <Line data={rows} dataKey="v" stroke={COLORS.pctB} strokeWidth={2.6} dot={false} activeDot={false} isAnimationActive={false} />
        {frame(p)}
      </ComposedChart>
    </div>
  );
}

function RsiPanel() {
  const p = PANELS.rsi;
  const box = panelBox(p, 130);
  const rows = pts(RSI);
  return (
    <div style={box.style}>
      <ComposedChart width={FIG_W} height={box.height} margin={chartMargin}>
        {axisParts(p, true, 130)}
        <Area data={rows} dataKey={(r: any) => [70, Math.max(r.v, 70)]} stroke="none" fill={COLORS.overbought} fillOpacity={0.2} isAnimationActive={false} />
        <Area data={rows} dataKey={(r: any) => [Math.min(r.v, 30), 30]} stroke="none" fill={COLORS.oversold} fillOpacity={0.2} isAnimationActive={false} />
        <ReferenceLine y={70} stroke={COLORS.overbought} strokeOpacity={0.8} strokeWidth={4} strokeDasharray="14 6" />
        <ReferenceLine y={30} stroke={COLORS.oversold} strokeOpacity={0.9} strokeWidth={4} strokeDasharray="14 6" />
        <ReferenceLine y={50} stroke="#808080" strokeOpacity={0.7} strokeWidth={2.6} strokeDasharray="2.6 2.6" />
        <Line data={rows} dataKey="v" stroke={COLORS.rsi} strokeWidth={4} dot={false} activeDot={false} isAnimationActive={false} />
        {frame(p)}
      </ComposedChart>
    </div>
  );
}

type LegendItem = {
  label: string;
  kind: 'line' | 'patch' | 'dot';
  color: string;
  width?: number;
  dash?: string;
  opacity?: number;
};

function LegendBox(props: { x: number; y: number; w: number; h: number; row0: number; rowStep: number; items: LegendItem[] }) {
  const { x, y, w, h, row0, rowStep, items } = props;
  return (
    <g>
      <rect x={x} y={y} width={w} height={h} rx={7} fill="#fff" fillOpacity={0.8} stroke="#cccccc" strokeWidth={2.4} />
      {items.map((it, i) => {
        const cy = row0 + i * rowStep;
        let handle;
        if (it.kind === 'line') {
          handle = (
            <line
              x1={x + 9}
              y1={cy}
              x2={x + 60}
              y2={cy}
              stroke={it.color}
              strokeWidth={it.width}
              strokeDasharray={it.dash}
              strokeOpacity={it.opacity ?? 1}
            />
          );
        } else if (it.kind === 'patch') {
          handle = (
            <rect x={x + 9} y={cy - 9} width={51} height={18} fill={it.color} fillOpacity={it.opacity} stroke={it.color} strokeOpacity={(it.opacity ?? 1) * 1.2} />
          );
        } else {
          handle = <circle cx={x + 34} cy={cy} r={8} fill={it.color} />;
        }
        return (
          <g key={it.label}>
            {handle}
            <text x={x + 78} y={cy} dominantBaseline="central" fontSize={24} fill="#000">
              {it.label}
            </text>
          </g>
        );
      })}
    </g>
  );
}

const PRICE_LEGEND: LegendItem[] = [
  { label: 'Close Price', kind: 'line', color: COLORS.close, width: 4.5 },
  { label: 'Upper (+2.0σ)', kind: 'line', color: COLORS.upper, width: 2.6, dash: '10 4.5' },
  { label: 'Middle (SMA 20)', kind: 'line', color: COLORS.middle, width: 2.6, dash: '10 4.5' },
  { label: 'Lower (-2.0σ)', kind: 'line', color: COLORS.lower, width: 2.6, dash: '10 4.5' },
  { label: 'Band Range', kind: 'patch', color: COLORS.band, opacity: 0.1 },
  { label: 'Above Upper', kind: 'dot', color: COLORS.upper },
  { label: 'Below Lower', kind: 'dot', color: COLORS.lower },
];

const MACD_LEGEND: LegendItem[] = [
  { label: 'MACD(12,26)', kind: 'line', color: COLORS.macd, width: 4.2 },
  { label: 'Signal(9)', kind: 'line', color: COLORS.signal, width: 4.2 },
  { label: 'Histogram', kind: 'patch', color: COLORS.histPos, opacity: 0.7 },
];

const PCTB_LEGEND: LegendItem[] = [
  { label: '%B', kind: 'line', color: COLORS.pctB, width: 3.5 },
  { label: '%B = 1 (Upper)', kind: 'line', color: COLORS.upper, width: 2.8, dash: '8 3.5', opacity: 0.75 },
  { label: '%B = 0.5 (Mid)', kind: 'line', color: COLORS.middle, width: 2.6, dash: '2.6 3', opacity: 0.6 },
  { label: '%B = 0 (Lower)', kind: 'line', color: COLORS.lower, width: 2.8, dash: '8 3.5', opacity: 0.75 },
];

const RSI_LEGEND: LegendItem[] = [
  { label: 'RSI(14)', kind: 'line', color: COLORS.rsi, width: 4 },
  { label: 'Overbought (70)', kind: 'line', color: COLORS.overbought, width: 4, dash: '12 5', opacity: 0.8 },
  { label: 'Oversold (30)', kind: 'line', color: COLORS.oversold, width: 4, dash: '12 5', opacity: 0.9 },
];

function YLabel(props: { x: number; y: number; text: string }) {
  const { x, y, text } = props;
  return (
    <text x={x} y={y} transform={`rotate(-90 ${x} ${y})`} textAnchor="middle" fontSize={32} fill="#000">
      {text}
    </text>
  );
}

function Overlay() {
  const mid = (p: PanelDef) => (p.top + p.bottom) / 2;
  return (
    <svg width={FIG_W} height={FIG_H} style={{ position: 'absolute', left: 0, top: 0, pointerEvents: 'none' }}>
      <text
        x={FIG_W / 2}
        y={60}
        textAnchor="middle"
        fontSize={48.5}
        fontWeight="bold"
        fill="#000"
        style={{ whiteSpace: 'pre' }}
      >
        CABO  —  Bollinger Bands(20, 2.0)  +  MACD(12,26,9)  +  RSI(14)  —  2026-07-31
      </text>
      <YLabel x={55} y={mid(PANELS.price)} text="Price (USD)" />
      <YLabel x={49} y={mid(PANELS.macd)} text="MACD" />
      <YLabel x={64} y={mid(PANELS.pctb)} text="%B" />
      <YLabel x={55} y={mid(PANELS.rsi)} text="RSI(14)" />
      <LegendBox x={165} y={55} w={288} h={261} row0={75} rowStep={36.5} items={PRICE_LEGEND} />
      <LegendBox x={166} y={1863} w={249} h={119} row0={1888} rowStep={35.3} items={MACD_LEGEND} />
      <LegendBox x={166} y={2974} w={279} h={154} row0={2995} rowStep={36.2} items={PCTB_LEGEND} />
      <LegendBox x={166} y={3615} w={291} h={116} row0={3636} rowStep={36} items={RSI_LEGEND} />
    </svg>
  );
}

export default function App() {
  // the figure is laid out at its native size and fitted to whatever viewport the page gets
  const [fit, setFit] = React.useState({ kx: 1, ky: 1 });
  React.useLayoutEffect(() => {
    setFit({ kx: window.innerWidth / FIG_W, ky: window.innerHeight / FIG_H });
  }, []);
  return (
    <div style={{ width: FIG_W * fit.kx, height: FIG_H * fit.ky, overflow: 'hidden' }}>
      <style>{'html,body{margin:0;padding:0;background:#fff}'}</style>
      <div
        style={{
          position: 'relative',
          width: FIG_W,
          height: FIG_H,
          background: '#fff',
          fontFamily: FONT,
          overflow: 'hidden',
          transform: `scale(${fit.kx}, ${fit.ky})`,
          transformOrigin: '0 0',
        }}
      >
        <PricePanel />
        <MacdPanel />
        <PctBPanel />
        <RsiPanel />
        <Overlay />
      </div>
    </div>
  );
}
